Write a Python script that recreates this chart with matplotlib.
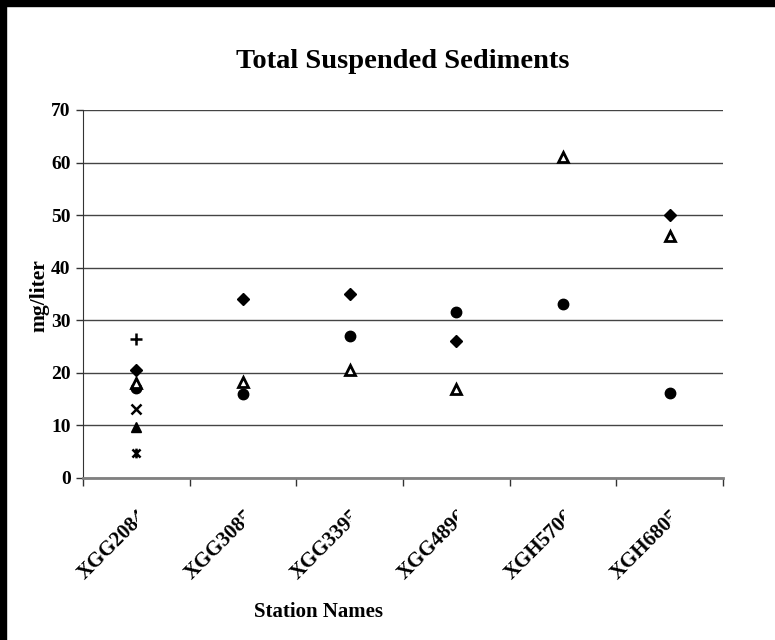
import matplotlib
matplotlib.use("Agg")
import matplotlib.pyplot as plt
import numpy as np
from matplotlib.path import Path
from matplotlib.transforms import Bbox, IdentityTransform
from matplotlib.patches import Rectangle

plt.rcParams['font.family'] = ['Liberation Serif', 'DejaVu Serif']
plt.rcParams['font.weight'] = 'bold'

stations = ["XGG2084", "XGG3085", "XGG3395", "XGG4896", "XGH5706", "XGH6805"]
nan = np.nan
diamond_vals  = [20.5, 34.0, 35.0, 26.0, nan, 50.0]
triangle_open = [18.0, 18.2, 20.5, 17.0, 61.0, 46.0]
circle_vals   = [17.2, 16.0, 27.0, 31.6, 33.1, 16.1]
plus_vals     = [26.5, nan, nan, nan, nan, nan]
x_vals        = [13.2, nan, nan, nan, nan, nan]
tri_fill_vals = [9.7, nan, nan, nan, nan, nan]
star_vals     = [4.8, nan, nan, nan, nan, nan]
yticks = [0, 10, 20, 30, 40, 50, 60, 70]

W, H = 775, 640
fig = plt.figure(figsize=(W/100, H/100), dpi=100)
ax = fig.add_axes([83/W, 1-478/H, (723-83)/W, (478-110)/H])

x = np.arange(len(stations))
star_path = Path([(-1, -1), (1, 1), (-1, 1), (1, -1), (0, -1.2), (0, 1.2)],
                 [Path.MOVETO, Path.LINETO, Path.MOVETO, Path.LINETO, Path.MOVETO, Path.LINETO])

ax.plot(x, diamond_vals, linestyle='none', marker='D', ms=6.5, color='black', zorder=5)
ax.plot(x, circle_vals, linestyle='none', marker='o', ms=7.5, color='black', zorder=5)
ax.plot(x, triangle_open, linestyle='none', marker='^', ms=7, mfc='white', mec='black', mew=2, zorder=6)
ax.plot(x, plus_vals, linestyle='none', marker='+', ms=8, mew=1.8, color='black', zorder=5)
ax.plot(x, x_vals, linestyle='none', marker='x', ms=6.5, mew=1.8, color='black', zorder=5)
ax.plot(x, tri_fill_vals, linestyle='none', marker='^', ms=7, color='black', zorder=5)
ax.plot(x, star_vals, linestyle='none', marker=star_path, ms=7, mew=1.8, color='black', zorder=5)

ax.set_xlim(-0.5, len(stations) - 0.5)
ax.set_ylim(0, 70)
ax.set_yticks(yticks)
ax.set_yticklabels([str(v) for v in yticks], fontsize=14, fontweight='bold')
ax.set_xticks(np.arange(-0.5, len(stations)))
ax.set_xticklabels([])
ax.tick_params(axis='y', direction='out', length=5, width=1, color='#333333', pad=4)
ax.tick_params(axis='x', direction='out', length=6, width=1, color='#333333')
ax.yaxis.grid(True, color='#444444', linewidth=1)
ax.set_axisbelow(True)
for s in ['top', 'right']:
    ax.spines[s].set_visible(False)
ax.spines['left'].set_color('#333333')
ax.spines['bottom'].set_color('#808080')
ax.spines['bottom'].set_linewidth(2)

# Rotated, clipped station labels
for i, name in enumerate(stations):
    px, py = ax.transData.transform((i, 0))
    t = fig.text(px + 8, py - 35, name, transform=IdentityTransform(), rotation=45,
                 rotation_mode='anchor', ha='right', va='center', fontsize=15,
                 fontweight='bold')
    t.set_clip_box(Bbox.from_extents(px - 300, 0, px + 1, py))
    t.set_clip_on(True)

fig.text(403/W, 1-62/H, "Total Suspended Sediments", ha='center', va='center',
         fontsize=20.5, fontweight='bold')
fig.text(39/W, 1-296/H, "mg/liter", rotation=90, ha='center', va='center',
         fontsize=15.5, fontweight='bold')
fig.text(318/W, 1-612/H, "Station Names", ha='center', va='center',
         fontsize=15, fontweight='bold')

# black frame on top and left
fig.patches.append(Rectangle((0, 1-6/H), 1, 6/H, transform=fig.transFigure, color='black', zorder=10))
fig.patches.append(Rectangle((0, 0), 6/W, 1, transform=fig.transFigure, color='black', zorder=10))

fig.savefig("out.png", dpi=100)
